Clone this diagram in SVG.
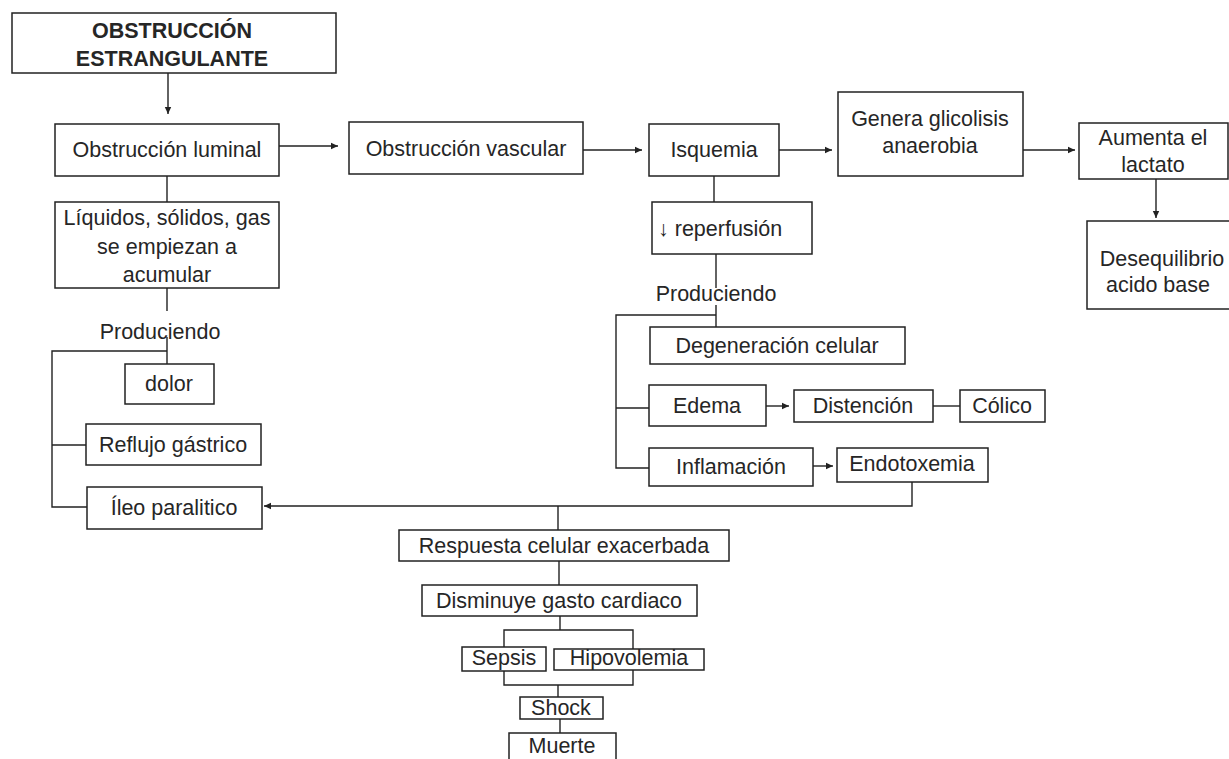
<svg xmlns="http://www.w3.org/2000/svg" width="1229" height="759" viewBox="0 0 1229 759">
<style>
rect{fill:#fff;stroke:#222;stroke-width:1.5}
text{font-family:"Liberation Sans",Arial,sans-serif;font-size:21.5px;fill:#262626;text-anchor:middle}
.b{font-weight:bold;font-size:21.5px}
.c line,.c polyline{stroke:#222;stroke-width:1.4;fill:none}
.a{marker-end:url(#ah)}
</style>
<defs>
<marker id="ah" markerUnits="userSpaceOnUse" markerWidth="8" markerHeight="8" refX="7" refY="4" orient="auto">
<path d="M0,0.8 L7,4 L0,7.2 Z" fill="#222"/>
</marker>
</defs>
<rect x="0" y="0" width="1229" height="759" style="fill:#fff;stroke:none"/>
<g class="c" id="connectors">
<line class="a" x1="168" y1="73" x2="168" y2="114"/>
<line class="a" x1="279" y1="146" x2="338" y2="146"/>
<line class="a" x1="583" y1="150" x2="642" y2="150"/>
<line class="a" x1="779" y1="150" x2="832" y2="150"/>
<line class="a" x1="1023" y1="150" x2="1075" y2="150"/>
<line class="a" x1="1156" y1="179" x2="1156" y2="218"/>
<line x1="167" y1="176" x2="167" y2="202"/>
<line x1="167" y1="288" x2="167" y2="311"/>
<line x1="167" y1="337" x2="167" y2="364"/>
<polyline points="167,351 52,351 52,507 87,507"/>
<line x1="52" y1="445" x2="86" y2="445"/>
<line x1="714" y1="176" x2="714" y2="202"/>
<line x1="716" y1="254" x2="716" y2="288"/>
<line x1="716" y1="305" x2="716" y2="327"/>
<polyline points="716,315 616,315 616,468 649,468"/>
<line x1="616" y1="408" x2="649" y2="408"/>
<line class="a" x1="766" y1="406" x2="789" y2="406"/>
<line x1="933" y1="406" x2="960" y2="406"/>
<line class="a" x1="813" y1="466" x2="833" y2="466"/>
<polyline class="a" points="912,482 912,506 264,506"/>
<line x1="558" y1="506" x2="558" y2="530"/>
<line x1="559" y1="561" x2="559" y2="585"/>
<line x1="560" y1="616" x2="560" y2="630"/>
<polyline points="504,647 504,630 633,630 633,649"/>
<polyline points="504,671 504,685 633,685 633,670"/>
<line x1="558" y1="685" x2="558" y2="697"/>
<line x1="560" y1="719" x2="560" y2="733"/>
</g>
<g id="n-estrangulante"><rect x="12" y="13" width="324" height="60"/><text class="b" x="172" y="38">OBSTRUCCIÓN</text><text class="b" x="172" y="66">ESTRANGULANTE</text></g>
<g id="n-luminal"><rect x="55" y="124" width="224" height="52"/><text x="167" y="157">Obstrucción luminal</text></g>
<g id="n-vascular"><rect x="349" y="122" width="234" height="52"/><text x="466" y="156">Obstrucción vascular</text></g>
<g id="n-isquemia"><rect x="649" y="124" width="130" height="52"/><text x="714" y="157">Isquemia</text></g>
<g id="n-glicolisis"><rect x="838" y="92" width="185" height="84"/><text x="930" y="126">Genera glicolisis</text><text x="930" y="153">anaerobia</text></g>
<g id="n-lactato"><rect x="1079" y="123" width="149" height="56"/><text x="1153" y="145">Aumenta el</text><text x="1153" y="172">lactato</text></g>
<g id="n-desequilibrio"><rect x="1087" y="221" width="150" height="88"/><text x="1162" y="266">Desequilibrio</text><text x="1158" y="292">acido base</text></g>
<g id="n-reperfusion"><rect x="652" y="202" width="160" height="52"/><text x="658" y="236" style="text-anchor:start">↓ reperfusión</text></g>
<g id="n-liquidos"><rect x="55" y="202" width="224" height="86"/><text x="167" y="225">Líquidos, sólidos, gas</text><text x="167" y="254">se empiezan a</text><text x="167" y="282">acumular</text></g>
<g id="n-produciendo1"><text x="160" y="339">Produciendo</text></g>
<g id="n-dolor"><rect x="125" y="364" width="89" height="40"/><text x="169" y="391">dolor</text></g>
<g id="n-reflujo"><rect x="86" y="424" width="175" height="41"/><text x="173" y="452">Reflujo gástrico</text></g>
<g id="n-ileo"><rect x="87" y="487" width="175" height="42"/><text x="174" y="515">Íleo paralitico</text></g>
<g id="n-produciendo2"><text x="716" y="301">Produciendo</text></g>
<g id="n-degeneracion"><rect x="650" y="327" width="255" height="37"/><text x="777" y="353">Degeneración celular</text></g>
<g id="n-edema"><rect x="649" y="385" width="117" height="41"/><text x="707" y="413">Edema</text></g>
<g id="n-distencion"><rect x="794" y="390" width="139" height="32"/><text x="863" y="413">Distención</text></g>
<g id="n-colico"><rect x="960" y="390" width="85" height="32"/><text x="1002" y="413">Cólico</text></g>
<g id="n-inflamacion"><rect x="649" y="448" width="164" height="38"/><text x="731" y="474">Inflamación</text></g>
<g id="n-endotoxemia"><rect x="837" y="448" width="151" height="34"/><text x="912" y="471">Endotoxemia</text></g>
<g id="n-respuesta"><rect x="399" y="530" width="330" height="31"/><text x="564" y="553">Respuesta celular exacerbada</text></g>
<g id="n-disminuye"><rect x="422" y="585" width="275" height="31"/><text x="559" y="608">Disminuye gasto cardiaco</text></g>
<g id="n-sepsis"><rect x="462" y="647" width="84" height="24"/><text x="504" y="665">Sepsis</text></g>
<g id="n-hipovolemia"><rect x="554" y="649" width="150" height="21"/><text x="629" y="665">Hipovolemia</text></g>
<g id="n-shock"><rect x="520" y="697" width="83" height="22"/><text x="561" y="715">Shock</text></g>
<g id="n-muerte"><rect x="509" y="733" width="107" height="34"/><text x="562" y="753">Muerte</text></g>
</svg>
